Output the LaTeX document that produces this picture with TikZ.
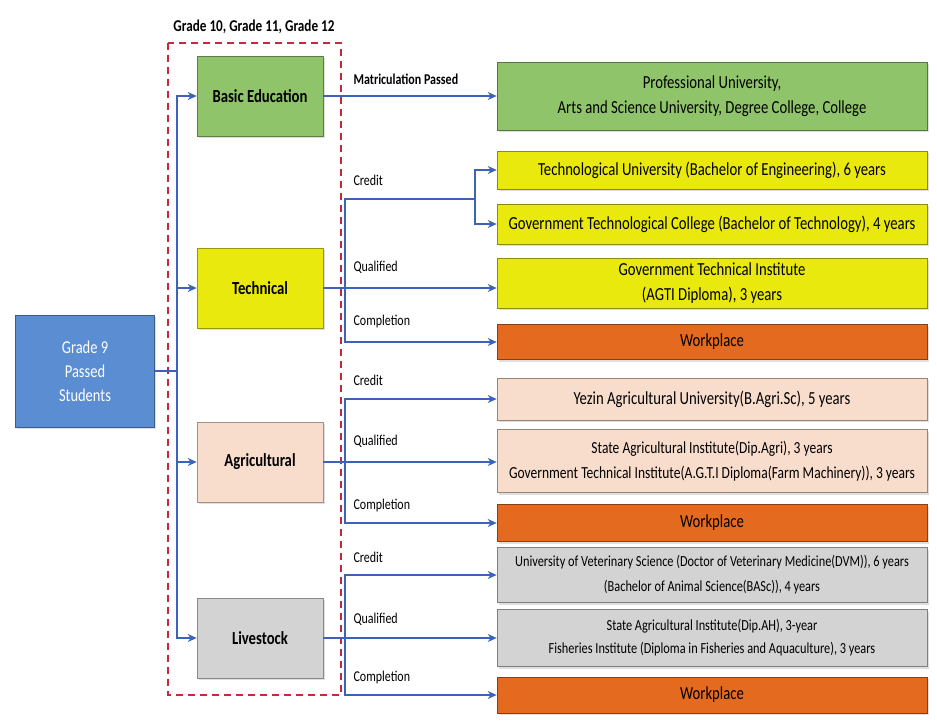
\documentclass[tikz,border=0pt]{standalone}
\usepackage{fontspec}
\setmainfont{Carlito}[FakeStretch=0.8]
\usetikzlibrary{calc,arrows.meta,shadows}
\definecolor{flowblue}{HTML}{3C63B9}
\definecolor{gradeblue}{HTML}{5B8DD3}
\definecolor{basicgreen}{HTML}{8FC46A}
\definecolor{techyellow}{HTML}{E9E90E}
\definecolor{agripeach}{HTML}{F8DDCC}
\definecolor{livegray}{HTML}{D3D3D3}
\definecolor{workorange}{HTML}{E36A1E}
\definecolor{gradered}{HTML}{C8283C}

\begin{document}
\begin{tikzpicture}[x=1pt,y=-1pt,
	flow/.style={draw=flowblue,line width=2.5pt,-{Stealth[length=9pt,width=8pt]}},
	bus/.style={draw=flowblue,line width=2.5pt},
	boxshadow/.style={drop shadow={opacity=0.25,shadow xshift=1.5pt,shadow yshift=-2pt}},
	leftbox/.style={draw=#1!65!black,fill=#1,line width=0.6pt,boxshadow,
		minimum width=126pt,minimum height=80pt,font=\bfseries\fontsize{18.4}{20}\selectfont},
	rightbox/.style={draw=#1!60!black,fill=#1,line width=0.6pt,boxshadow,
		minimum width=430pt,align=center,font=\fontsize{18.4}{25}\selectfont},
	pathlabel/.style={anchor=west,font=\fontsize{15}{16}\selectfont},
	]
	\useasboundingbox (0,0) rectangle (937,721);
	% grade 10-12 frame
	\draw[gradered,line width=1.8pt,dash pattern=on 7pt off 5pt] (168,43) rectangle (341,695);
	\node[font=\bfseries\fontsize{16.5}{18}\selectfont] (title) at (254,27) {Grade 10, Grade 11, Grade 12};
	% start
	\node[draw=gradeblue!65!black,fill=gradeblue,line width=0.6pt,boxshadow,minimum width=139pt,minimum height=112pt,
		align=center,text=white,font=\fontsize{18.1}{24}\selectfont] (g9) at (85,371) {Grade 9\\Passed\\Students};
	% streams
	\node[leftbox=basicgreen] (basic) at (260,96) {Basic Education};
	\node[leftbox=techyellow] (tech) at (260,288) {Technical};
	\node[leftbox=agripeach] (agri) at (260,462) {Agricultural};
	\node[leftbox=livegray] (live) at (260,638) {Livestock};
	% destinations
	\node[rightbox=basicgreen,minimum height=68pt] (prof) at (712,96) {Professional University,\\Arts and Science University, Degree College, College};
	\node[rightbox=techyellow,minimum height=38pt] (tu) at (712,170) {Technological University (Bachelor of Engineering), 6 years};
	\node[rightbox=techyellow,minimum height=40pt] (gtc) at (712,224) {Government Technological College (Bachelor of Technology), 4 years};
	\node[rightbox=techyellow,minimum height=50pt] (gti) at (712,283) {Government Technical Institute\\(AGTI Diploma), 3 years};
	\node[rightbox=workorange,minimum height=35pt] (work1) at (712,342) {Workplace};
	\node[rightbox=agripeach,minimum height=42pt] (yau) at (712,399) {Yezin Agricultural University(B.Agri.Sc), 5 years};
	\node[rightbox=agripeach,minimum height=63pt,font=\fontsize{16.9}{25}\selectfont] (sai) at (712,461) {State Agricultural Institute(Dip.Agri), 3 years\\Government Technical Institute(A.G.T.I Diploma(Farm Machinery)), 3 years};
	\node[rightbox=workorange,minimum height=37pt] (work2) at (712,523) {Workplace};
	\node[rightbox=livegray,minimum height=55pt,font=\fontsize{15.4}{25}\selectfont] (uvs) at (712,575) {University of Veterinary Science (Doctor of Veterinary Medicine(DVM)), 6 years\\(Bachelor of Animal Science(BASc)), 4 years};
	\node[rightbox=livegray,minimum height=57pt,font=\fontsize{15.4}{23}\selectfont] (saiah) at (712,638) {State Agricultural Institute(Dip.AH), 3-year\\Fisheries Institute (Diploma in Fisheries and Aquaculture), 3 years};
	\node[rightbox=workorange,minimum height=36pt] (work3) at (712,695) {Workplace};
	% grade 9 to streams
	\coordinate (trunk) at (177,371);
	\draw[bus] (g9.east) -- (trunk);
	\draw[flow] (trunk) |- (basic.west);
	\draw[flow] (trunk) |- (tech.west);
	\draw[flow] (trunk) |- (agri.west);
	\draw[flow] (trunk) |- (live.west);
	% basic education
	\draw[flow] (basic.east) -- (prof.west);
	\node[pathlabel,font=\bfseries\fontsize{15}{16}\selectfont] (matric) at (350,79) {Matriculation Passed};
	% technical
	\coordinate (tbus) at (345,288);
	\coordinate (tsplit) at (475,199);
	\draw[bus] (tech.east) -- (tbus);
	\draw[bus] (tbus) |- (tsplit);
	\draw[flow] (tsplit) |- (tu.west);
	\draw[flow] (tsplit) |- (gtc.west);
	\draw[flow] (tbus) -- (tbus -| gti.west);
	\draw[flow] (tbus) |- (work1.west);
	\node[pathlabel] (tcredit) at (350,180) {Credit};
	\node[pathlabel] (tqual) at (350,267) {Qualified};
	\node[pathlabel] (tcomp) at (350,321) {Completion};
	% agricultural
	\coordinate (abus) at (345,462);
	\draw[bus] (agri.east) -- (abus);
	\draw[flow] (abus) |- (yau.west);
	\draw[flow] (abus) -- (abus -| sai.west);
	\draw[flow] (abus) |- (work2.west);
	\node[pathlabel] (acredit) at (350,380) {Credit};
	\node[pathlabel] (aqual) at (350,441) {Qualified};
	\node[pathlabel] (acomp) at (350,505) {Completion};
	% livestock
	\coordinate (lbus) at (345,638);
	\draw[bus] (live.east) -- (lbus);
	\draw[flow] (lbus) |- (uvs.west);
	\draw[flow] (lbus) -- (lbus -| saiah.west);
	\draw[flow] (lbus) |- (work3.west);
	\node[pathlabel] (lcredit) at (350,557) {Credit};
	\node[pathlabel] (lqual) at (350,619) {Qualified};
	\node[pathlabel] (lcomp) at (350,677) {Completion};
\end{tikzpicture}
\end{document}
